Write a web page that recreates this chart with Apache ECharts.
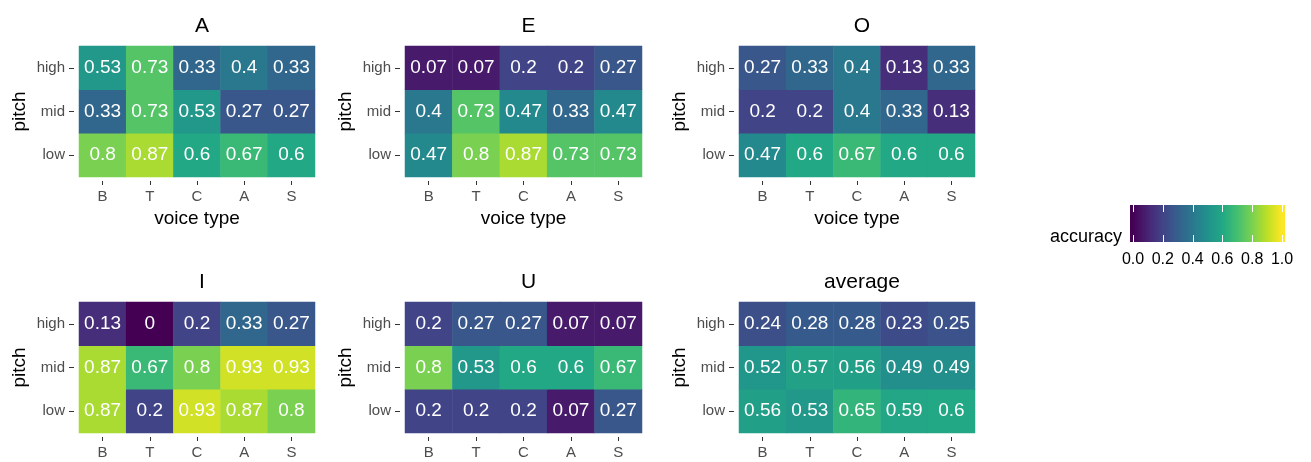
<!DOCTYPE html>
<html><head><meta charset="utf-8">
<script src="https://cdn.jsdelivr.net/npm/echarts@6/dist/echarts.min.js"></script>
<style>html,body{margin:0;padding:0;background:#fff}#c{width:1311px;height:462px}</style>
</head><body><div id="c"></div>
<script>
var voiceTypes = ['B','T','C','A','S'];
var pitches = ['low','mid','high'];
var panelTitles = ['A','E','O','I','U','average'];
// each panel: rows low, mid, high; columns B,T,C,A,S
var panelA = [[0.8,0.87,0.6,0.67,0.6],[0.33,0.73,0.53,0.27,0.27],[0.53,0.73,0.33,0.4,0.33]];
var panelE = [[0.47,0.8,0.87,0.73,0.73],[0.4,0.73,0.47,0.33,0.47],[0.07,0.07,0.2,0.2,0.27]];
var panelO = [[0.47,0.6,0.67,0.6,0.6],[0.2,0.2,0.4,0.33,0.13],[0.27,0.33,0.4,0.13,0.33]];
var panelI = [[0.87,0.2,0.93,0.87,0.8],[0.87,0.67,0.8,0.93,0.93],[0.13,0,0.2,0.33,0.27]];
var panelU = [[0.2,0.2,0.2,0.07,0.27],[0.8,0.53,0.6,0.6,0.67],[0.2,0.27,0.27,0.07,0.07]];
var panelAvg = [[0.56,0.53,0.65,0.59,0.6],[0.52,0.57,0.56,0.49,0.49],[0.24,0.28,0.28,0.23,0.25]];
var legendTicks = [0.0,0.2,0.4,0.6,0.8,1.0];

var panels = [panelA,panelE,panelO,panelI,panelU,panelAvg];
var viridis = ['#440154','#482475','#414487','#355F8D','#2A788E','#21918C','#22A884','#44BF70','#7AD151','#BDDF26','#FDE725'];
var FONT = '"Liberation Sans", Arial, sans-serif';

var cols = [{left:79,width:236},{left:405,width:237},{left:739,width:236}];
var rows = [{top:46,height:131},{top:302,height:131}];

var grids=[],xAxes=[],yAxes=[],series=[],titles=[];
panels.forEach(function(p,i){
  var c = cols[i%3], r = rows[Math.floor(i/3)];
  grids.push({left:c.left,top:r.top,width:c.width,height:r.height,containLabel:false});
  xAxes.push({type:'category',gridIndex:i,data:voiceTypes,offset:4,
    name: i<3 ? 'voice type' : '', nameLocation:'middle', nameGap:28,
    nameTextStyle:{fontFamily:FONT,fontSize:19,color:'#000'},
    axisLine:{show:false},axisTick:{show:true,alignWithLabel:true,length:4,lineStyle:{color:'#333'}},
    axisLabel:{fontFamily:FONT,fontSize:15,color:'#4d4d4d',margin:8},splitLine:{show:false}});
  yAxes.push({type:'category',gridIndex:i,data:pitches,offset:5,
    name:'pitch',nameLocation:'middle',nameGap:45,nameRotate:90,
    nameTextStyle:{fontFamily:FONT,fontSize:19,color:'#000'},
    axisLine:{show:false},axisTick:{show:true,alignWithLabel:true,length:5,lineStyle:{color:'#333'}},
    axisLabel:{fontFamily:FONT,fontSize:15,color:'#4d4d4d',margin:9},splitLine:{show:false}});
  var data=[];
  p.forEach(function(row,ri){row.forEach(function(v,ci){data.push([ci,ri,v]);});});
  series.push({type:'heatmap',xAxisIndex:i,yAxisIndex:i,data:data,
    label:{show:true,color:'#fff',fontFamily:FONT,fontSize:19,formatter:function(d){return String(d.value[2]);}},
    itemStyle:{borderWidth:0},emphasis:{disabled:true}});
  titles.push({text:panelTitles[i],left:c.left+c.width/2,top:r.top-35,textAlign:'center',
    textStyle:{fontFamily:FONT,fontSize:21,fontWeight:'normal',color:'#000'}});
});

// legend colourbar drawn as graphic
var barL=1130, barR=1285, barT=205, barB=242, v0=1133, v1=1282;
var stops=viridis.map(function(col,k){var v=k/(viridis.length-1);return {offset:(v0+(v1-v0)*v-barL)/(barR-barL),color:col};});
stops.unshift({offset:0,color:viridis[0]});stops.push({offset:1,color:viridis[viridis.length-1]});
var gfx=[{type:'rect',shape:{x:barL,y:barT,width:barR-barL,height:barB-barT},
  style:{fill:new echarts.graphic.LinearGradient(0,0,1,0,stops)}}];
legendTicks.forEach(function(t){
  var x=Math.round(v0+(v1-v0)*t)+0.5;
  gfx.push({type:'line',shape:{x1:x,y1:barT,x2:x,y2:barT+7},style:{stroke:'#fff',lineWidth:1}});
  gfx.push({type:'line',shape:{x1:x,y1:barB-7,x2:x,y2:barB},style:{stroke:'#fff',lineWidth:1}});
  gfx.push({type:'text',x:v0+(v1-v0)*t,y:252,style:{text:t.toFixed(1),fontFamily:FONT,fontSize:16,fill:'#000',textAlign:'center',textVerticalAlign:'top'}});
});
gfx.push({type:'text',x:1122,y:237,style:{text:'accuracy',fontFamily:FONT,fontSize:18,fill:'#000',textAlign:'right',textVerticalAlign:'middle'}});

var chart=echarts.init(document.getElementById('c'),null,{renderer:'canvas'});
chart.setOption({
  animation:false,backgroundColor:'#fff',
  title:titles,grid:grids,xAxis:xAxes,yAxis:yAxes,series:series,
  visualMap:{show:false,type:'continuous',min:0,max:1,seriesIndex:[0,1,2,3,4,5],inRange:{color:viridis}},
  graphic:gfx
});
</script></body></html>
